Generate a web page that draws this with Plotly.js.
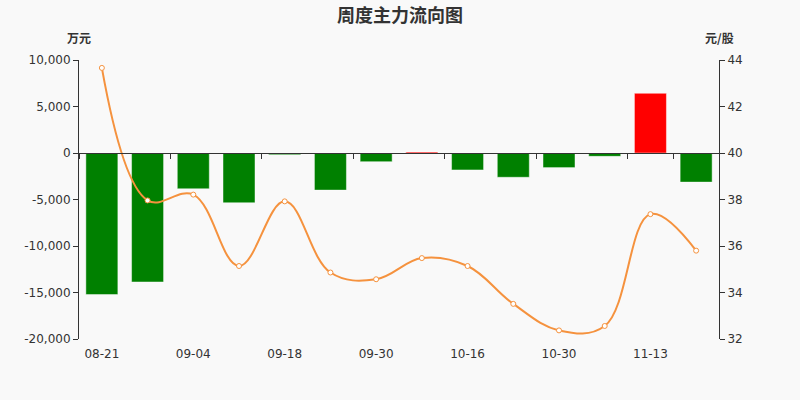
<!DOCTYPE html>
<html>
<head>
<meta charset="utf-8">
<script src="https://cdn.plot.ly/plotly-3.0.1.min.js"></script>
<style>
  body { margin: 0; background: #f9f9f9; }
  #chart { width: 800px; height: 400px; }
</style>
</head>
<body>
<div id="chart"></div>
<script>
// weekly dates
let weeks = ["08-21", "08-28", "09-04", "09-11", "09-18", "09-25", "09-30",
             "10-09", "10-16", "10-23", "10-30", "11-06", "11-13", "11-20"];
// main force net flow, 万元
let flow = [-15220, -13870, -3850, -5350, -180, -3990, -930,
            100, -1820, -2610, -1570, -360, 6420, -3130];
// close price, 元/股
let price = [43.66, 37.96, 38.21, 35.14, 37.92, 34.86, 34.57,
             35.48, 35.14, 33.51, 32.37, 32.56, 37.37, 35.80];

let flowTicks = [-20000, -15000, -10000, -5000, 0, 5000, 10000];
let flowTickText = ["-20,000", "-15,000", "-10,000", "-5,000", "0", "5,000", "10,000"];
let priceTicks = [32, 34, 36, 38, 40, 42, 44];
let labelWeeks = weeks.filter((w, i) => i % 2 == 0);

let barColors = flow.map(v => v >= 0 ? "#ff0000" : "#008000");

let bars = {
  x: weeks,
  y: flow,
  type: "bar",
  marker: { color: barColors, line: { color: "rgba(255,255,255,0.45)", width: 1 } },
  hoverinfo: "x+y"
};

let line = {
  x: weeks,
  y: price,
  xaxis: "x2",
  yaxis: "y2",
  type: "scatter",
  mode: "lines+markers",
  line: { color: "#f5923e", width: 2, shape: "spline", smoothing: 1.1 },
  marker: { symbol: "circle", size: 5, color: "#ffffff", line: { color: "#f5923e", width: 1 } }
};

let tickFont = { family: "DejaVu Sans", size: 12, color: "#333333" };
let unitFont = { family: "Noto Sans CJK SC", size: 12, weight: "bold", color: "#333333" };

let layout = {
  width: 800,
  height: 400,
  margin: { l: 79, r: 81, t: 60, b: 61 },
  paper_bgcolor: "#f9f9f9",
  plot_bgcolor: "#f9f9f9",
  showlegend: false,
  bargap: 0.3,
  title: {
    text: "周度主力流向图",
    font: { family: "Noto Sans CJK SC", size: 18, weight: "bold", color: "#333333" },
    x: 0.5, xanchor: "center", y: 0.962, yanchor: "middle"
  },
  xaxis: {
    type: "category",
    categoryarray: weeks,
    range: [-0.5, 13.5],
    tickmode: "array",
    tickvals: labelWeeks,
    ticks: "",
    ticklabelstandoff: 6,
    showline: false,
    showgrid: false,
    zeroline: false,
    tickfont: tickFont,
    fixedrange: true
  },
  xaxis2: {
    type: "category",
    categoryarray: weeks,
    range: [-0.5, 13.5],
    overlaying: "x",
    anchor: "free",
    position: 2 / 3,
    tickmode: "array",
    tickvals: labelWeeks,
    tickson: "boundaries",
    ticks: "outside",
    ticklen: 5,
    tickcolor: "#333333",
    showticklabels: false,
    showline: true,
    linecolor: "#333333",
    linewidth: 1,
    showgrid: false,
    zeroline: false
  },
  yaxis: {
    range: [-20000, 10000],
    tickmode: "array",
    tickvals: flowTicks,
    ticktext: flowTickText,
    ticks: "outside",
    ticklen: 5,
    tickcolor: "#333333",
    showline: true,
    linecolor: "#333333",
    showgrid: false,
    zeroline: false,
    tickfont: tickFont
  },
  yaxis2: {
    range: [32, 44],
    overlaying: "y",
    side: "right",
    anchor: "x2",
    tickmode: "array",
    tickvals: priceTicks,
    ticks: "outside",
    ticklen: 5,
    tickcolor: "#333333",
    showline: true,
    linecolor: "#333333",
    showgrid: false,
    zeroline: false,
    tickfont: tickFont
  },
  annotations: [
    { text: "万元", xref: "paper", yref: "paper", x: 0, y: 1, xanchor: "center", yanchor: "middle",
      yshift: 23, showarrow: false, font: unitFont },
    { text: "元/股", xref: "paper", yref: "paper", x: 1, y: 1, xanchor: "center", yanchor: "middle",
      yshift: 23, showarrow: false, font: unitFont }
  ]
};

Plotly.newPlot("chart", [bars, line], layout, { displayModeBar: false, staticPlot: true });
</script>
</body>
</html>
